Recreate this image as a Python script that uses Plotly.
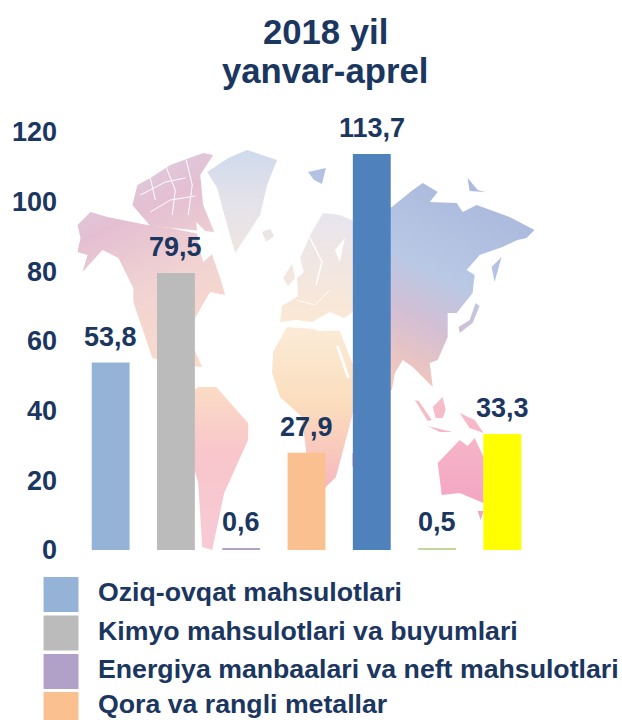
import base64
import plotly.graph_objects as go

# ---- data ----
title_line1 = "2018 yil"
title_line2 = "yanvar-aprel"
values = [53.8, 79.5, 0.6, 27.9, 113.7, 0.5, 33.3]
bar_colors = ["#95B3D7", "#BBBBBB", "#B1A0C7", "#FAC090", "#4F81BD", "#C3D69B", "#FFFF00"]
legend_labels = ["Oziq-ovqat mahsulotlari", "Kimyo mahsulotlari va buyumlari",
                 "Energiya manbaalari va neft mahsulotlari", "Qora va rangli metallar"]
y_ticks = [0, 20, 40, 60, 80, 100, 120]

NAVY = "#1B365F"
FONT = "Liberation Sans, Arial, sans-serif"
W, H = 622, 720
L, R, T, B = 77.5, 86.5, 132, 170
PW, PH = W - L - R, H - T - B

# ---- decorative faded world map (background picture only) ----
def poly(pts, fill):
    return '<polygon points="%s" fill="url(#%s)"/>' % (" ".join(f"{x},{y}" for x, y in pts), fill)

def gap(pts, w=1.0):
    return ('<polyline points="%s" fill="none" stroke="white" stroke-width="%s" stroke-linejoin="round"/>'
            % (" ".join(f"{x},{y}" for x, y in pts), w))

def hole(pts):
    return '<polygon points="%s" fill="white"/>' % " ".join(f"{x},{y}" for x, y in pts)

map_shapes = [
    # North America
    poly([(77,225),(90,212),(107,217),(147,225),(170,228),(203,235),(212,255),(220,278),(225,295),(210,292),(204,302),(195,318),(192,345),(202,367),(180,365),(152,358),(133,302),(133,288),(118,258),(102,250),(82,272),(87,255),(77,252),(80,238)], "na"),
    # Arctic islands
    poly([(132,205),(137,185),(150,178),(170,165),(203,153),(213,155),(200,175),(203,205),(214,232),(150,226)], "na"),
    # Greenland
    poly([(207,172),(228,158),(247,150),(277,160),(267,185),(260,215),(235,253),(225,218),(217,188)], "gl"),
    poly([(262,232),(270,229),(274,236),(266,242)], "gl"),
    # South America
    poly([(186,395),(198,387),(216,387),(248,423),(248,440),(224,493),(212,550),(202,547),(198,483),(186,440)], "sa"),
    # Africa
    poly([(273,352),(287,327),(340,331),(348,352),(356,372),(356,397),(352,417),(336,477),(320,493),(308,467),(302,417),(280,397),(272,373)], "af"),
    poly([(352,453),(356,453),(356,470),(352,466)], "af"),
    # Europe
    poly([(300,258),(312,232),(323,213),(340,215),(356,222),(356,310),(344,318),(330,312),(312,322),(296,320),(280,322),(282,306),(298,296),(297,278),(304,272)], "eu"),
    poly([(283,278),(292,264),(295,278),(288,286)], "eu"),
    poly([(308,172),(326,168),(322,184),(314,180)], "asia"),
    # Asia
    poly([(356,215),(392,207),(413,190),(423,183),(438,192),(430,202),(457,203),(463,212),(477,205),(510,217),(535,230),(527,238),(518,240),(503,247),(480,255),(467,270),(475,275),(473,293),(457,313),(448,313),(448,337),(438,360),(430,363),(433,387),(413,367),(403,360),(395,373),(392,390),(356,400)], "asia"),
    poly([(492,267),(502,257),(495,282)], "asia"),
    poly([(468,178),(478,190),(486,192),(470,191)], "asia"),
    poly([(476,303),(480,306),(473,323),(460,333),(459,327),(470,320)], "asia"),
    # South-East Asia
    poly([(415,400),(419,401),(432,420),(428,421)], "aus"),
    poly([(433,407),(443,397),(446,410),(443,418),(436,418)], "aus"),
    poly([(428,426),(440,429),(453,432),(440,432)], "aus"),
    poly([(460,413),(475,420),(484,433),(470,428)], "aus"),
    # Australia
    poly([(438,463),(460,440),(468,446),(475,438),(484,457),(484,503),(460,493),(442,495)], "aus"),
    poly([(478,511),(484,511),(481,520)], "aus"),
    # Seas and channels cut out of the land
    hole([(196,222),(206,232),(212,254),(203,262),(198,245)]),
    hole([(335,250),(345,238),(340,262)]),
    hole([(306,325),(326,322),(342,330),(318,331)]),
    hole([(336,346),(339,346),(350,378),(347,378)]),
    hole([(345,318),(356,314),(356,322),(345,323)]),
    gap([(140,195),(165,182),(185,178)]), gap([(150,212),(170,200),(195,196)]),
    gap([(165,165),(175,190),(172,215)]), gap([(186,160),(192,185),(188,215)]),
    gap([(150,178),(155,200)]), gap([(310,238),(322,262),(316,285)], 1.5),
    gap([(297,300),(315,305),(330,290)], 0.8),
]
map_svg = f'''<svg xmlns="http://www.w3.org/2000/svg" width="{W}" height="{H}" viewBox="0 0 {W} {H}">
<defs>
<filter id="b"><feGaussianBlur stdDeviation="0.7"/></filter>
<linearGradient id="na" gradientUnits="userSpaceOnUse" x1="90" y1="160" x2="190" y2="365">
<stop offset="0" stop-color="#DAD3E4"/><stop offset="0.3" stop-color="#E4BFD2"/><stop offset="0.6" stop-color="#F0D2D2"/><stop offset="1" stop-color="#FBDCCB"/></linearGradient>
<linearGradient id="gl" gradientUnits="userSpaceOnUse" x1="0" y1="150" x2="0" y2="253">
<stop offset="0" stop-color="#CFDAEC"/><stop offset="0.5" stop-color="#E4E2EA"/><stop offset="1" stop-color="#EFE6E0"/></linearGradient>
<linearGradient id="sa" gradientUnits="userSpaceOnUse" x1="0" y1="387" x2="0" y2="550">
<stop offset="0" stop-color="#FBDCC5"/><stop offset="0.4" stop-color="#F8C6CB"/><stop offset="1" stop-color="#F7CAD6"/></linearGradient>
<linearGradient id="af" gradientUnits="userSpaceOnUse" x1="0" y1="330" x2="0" y2="493">
<stop offset="0" stop-color="#FBEBD6"/><stop offset="0.45" stop-color="#FBDDBD"/><stop offset="1" stop-color="#F6B6BE"/></linearGradient>
<linearGradient id="eu" gradientUnits="userSpaceOnUse" x1="0" y1="213" x2="0" y2="322">
<stop offset="0" stop-color="#E8E5EF"/><stop offset="1" stop-color="#FBE8D4"/></linearGradient>
<linearGradient id="asia" gradientUnits="userSpaceOnUse" x1="490" y1="190" x2="395" y2="385">
<stop offset="0" stop-color="#A9B8DC"/><stop offset="0.45" stop-color="#B9C8E4"/><stop offset="0.68" stop-color="#D3BFD4"/><stop offset="1" stop-color="#F8C8B8"/></linearGradient>
<linearGradient id="aus" gradientUnits="userSpaceOnUse" x1="0" y1="400" x2="0" y2="510">
<stop offset="0" stop-color="#F7BECB"/><stop offset="1" stop-color="#F3A4C2"/></linearGradient>
</defs><g filter="url(#b)">{''.join(map_shapes)}</g></svg>'''
map_uri = "data:image/svg+xml;base64," + base64.b64encode(map_svg.encode()).decode()

# ---- figure ----
x = list(range(len(values)))
fig = go.Figure(go.Bar(x=x, y=values, marker=dict(color=bar_colors, line_width=0), width=0.58,
                       showlegend=False, cliponaxis=False, hoverinfo="y"))

for xi, v in zip(x, values):
    fig.add_annotation(x=xi, y=v, xref="x", yref="y", yshift=26, yanchor="middle", showarrow=False,
                       text=f"{v:.1f}".replace(".", ","),
                       font=dict(family=FONT, size=27, color=NAVY, weight="bold"))

def px(v): return (v - L) / PW
def py(v): return (H - B - v) / PH

# legend block: swatches and texts
sw_top = [577, 615.5, 654, 692]
text_mid = [592, 630.5, 669, 704]
for lab, col, top, mid in zip(legend_labels, bar_colors, sw_top, text_mid):
    fig.add_shape(type="rect", xref="paper", yref="paper", x0=px(43), x1=px(78), y0=py(top), y1=py(top + 35),
                  fillcolor=col, line_width=0)
    fig.add_annotation(xref="paper", yref="paper", x=px(95.5), y=py(mid), xanchor="left", yanchor="middle",
                       showarrow=False, text=lab, font=dict(family=FONT, size=26.7, color=NAVY, weight="bold"))

for txt, yc, in ((title_line1, 32), (title_line2, 71)):
    fig.add_annotation(xref="paper", yref="paper", x=px(325.5), y=py(yc), xanchor="center", yanchor="middle",
                       showarrow=False, text=txt, font=dict(family=FONT, size=34.7, color=NAVY, weight="bold"))

fig.update_layout(
    width=W, height=H, margin=dict(l=L, r=R, t=T, b=B), autosize=False,
    paper_bgcolor="white", plot_bgcolor="rgba(0,0,0,0)",
    images=[dict(source=map_uri, xref="paper", yref="paper", x=px(0), y=py(0),
                 sizex=W / PW, sizey=H / PH, xanchor="left", yanchor="top",
                 sizing="stretch", layer="below")],
    xaxis=dict(range=[-0.5, 6.5], visible=False, fixedrange=True),
    yaxis=dict(range=[0, 120], tickvals=y_ticks, showgrid=False, zeroline=False, showline=False,
               ticks="", ticklabelstandoff=20, fixedrange=True,
               tickfont=dict(family=FONT, size=27, color=NAVY, weight="bold")),
)
fig.write_html("out.html", config={"displayModeBar": False},
               post_script="document.body.style.margin='0';document.body.style.overflow='hidden';")
